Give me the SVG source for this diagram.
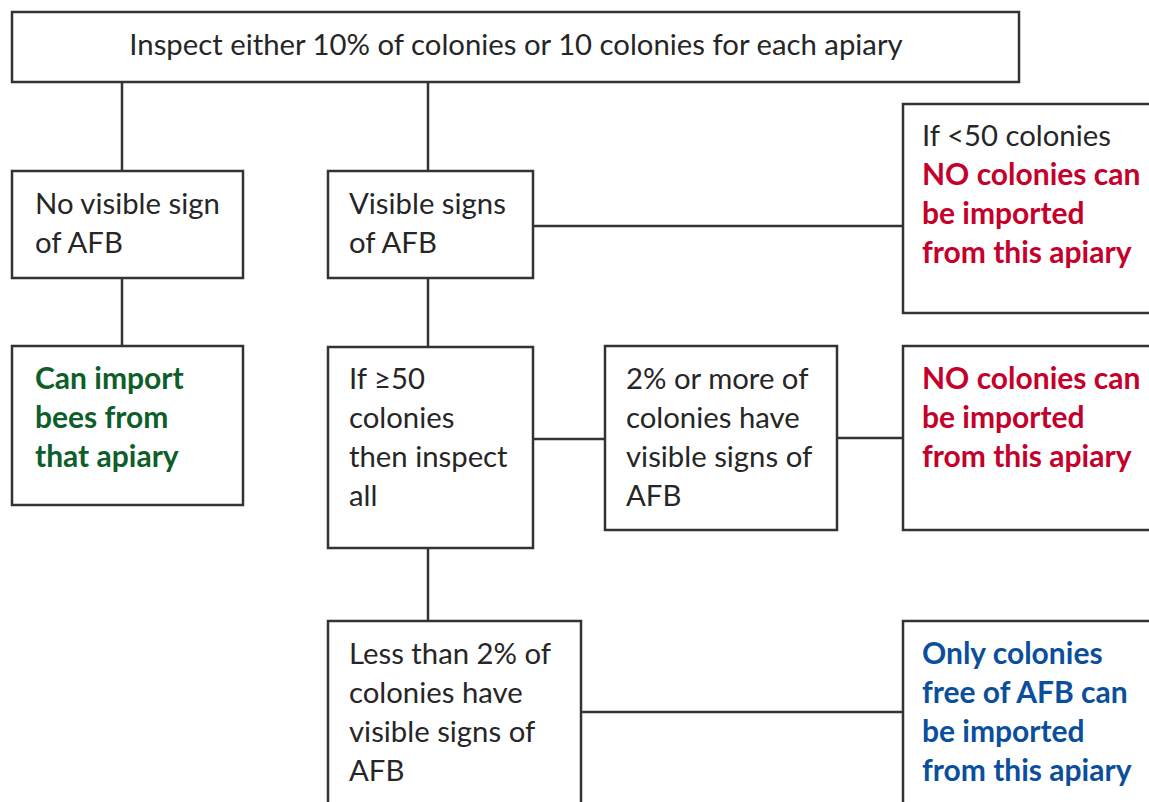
<svg xmlns="http://www.w3.org/2000/svg" width="1149" height="802" viewBox="0 0 1149 802">
<style>
.box{fill:#fff;stroke:#333;stroke-width:2.5}
.ln{stroke:#333;stroke-width:2.5;fill:none}
text{font-family:Lato,"Open Sans","Liberation Sans",sans-serif;font-size:29.3px;fill:#262626}
.r{fill:#c4002b;font-weight:bold;font-size:30px}
.g{fill:#0e5e2a;font-weight:bold;font-size:30px}
.b{fill:#0b4f9c;font-weight:bold;font-size:30px}
</style>
<rect width="1149" height="802" fill="#fff"/>
<g id="connectors">
<line class="ln" x1="122" y1="82" x2="122" y2="171"/>
<line class="ln" x1="428" y1="82" x2="428" y2="171"/>
<line class="ln" x1="122" y1="278" x2="122" y2="346"/>
<line class="ln" x1="428" y1="278" x2="428" y2="346"/>
<line class="ln" x1="533" y1="226" x2="903" y2="226"/>
<line class="ln" x1="533" y1="439" x2="605" y2="439"/>
<line class="ln" x1="837" y1="438" x2="903" y2="438"/>
<line class="ln" x1="428" y1="548" x2="428" y2="621"/>
<line class="ln" x1="581" y1="712" x2="903" y2="712"/>
</g>
<g id="top">
<rect class="box" x="12" y="12" width="1007" height="70"/>
<text x="516" y="55" text-anchor="middle">Inspect either 10% of colonies or 10 colonies for each apiary</text>
</g>
<g id="no-sign">
<rect class="box" x="12" y="171" width="231" height="107"/>
<text x="35" y="214">No visible sign</text>
<text x="35" y="253">of AFB</text>
</g>
<g id="visible-signs">
<rect class="box" x="328" y="171" width="205" height="107"/>
<text x="349" y="214">Visible signs</text>
<text x="349" y="253">of AFB</text>
</g>
<g id="less-50">
<rect class="box" x="903" y="104" width="260" height="209"/>
<text x="922" y="146">If &lt;50 colonies</text>
<text x="922" y="185" class="r">NO colonies can</text>
<text x="922" y="224" class="r">be imported</text>
<text x="922" y="263" class="r">from this apiary</text>
</g>
<g id="can-import">
<rect class="box" x="12" y="346" width="231" height="159"/>
<text x="35" y="389" class="g">Can import</text>
<text x="35" y="428" class="g">bees from</text>
<text x="35" y="467" class="g">that apiary</text>
</g>
<g id="ge-50">
<rect class="box" x="328" y="347" width="205" height="201"/>
<text x="349" y="389">If ≥50</text>
<text x="349" y="428">colonies</text>
<text x="349" y="467">then inspect</text>
<text x="349" y="506">all</text>
</g>
<g id="two-more">
<rect class="box" x="605" y="346" width="232" height="184"/>
<text x="626" y="389">2% or more of</text>
<text x="626" y="428">colonies have</text>
<text x="626" y="467">visible signs of</text>
<text x="626" y="506">AFB</text>
</g>
<g id="no-import">
<rect class="box" x="903" y="346" width="260" height="184"/>
<text x="922" y="389" class="r">NO colonies can</text>
<text x="922" y="428" class="r">be imported</text>
<text x="922" y="467" class="r">from this apiary</text>
</g>
<g id="less-2">
<rect class="box" x="328" y="621" width="253" height="200"/>
<text x="349" y="664">Less than 2% of</text>
<text x="349" y="703">colonies have</text>
<text x="349" y="742">visible signs of</text>
<text x="349" y="781">AFB</text>
</g>
<g id="only-free">
<rect class="box" x="903" y="621" width="260" height="200"/>
<text x="922" y="664" class="b">Only colonies</text>
<text x="922" y="703" class="b">free of AFB can</text>
<text x="922" y="742" class="b">be imported</text>
<text x="922" y="781" class="b">from this apiary</text>
</g>
</svg>
